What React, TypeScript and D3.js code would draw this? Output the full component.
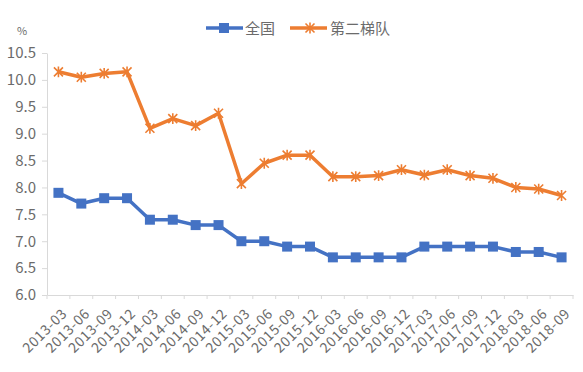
import React, { useEffect, useRef } from "react";
import * as d3 from "d3";

const quarters = [
  "2013-03", "2013-06", "2013-09", "2013-12",
  "2014-03", "2014-06", "2014-09", "2014-12",
  "2015-03", "2015-06", "2015-09", "2015-12",
  "2016-03", "2016-06", "2016-09", "2016-12",
  "2017-03", "2017-06", "2017-09", "2017-12",
  "2018-03", "2018-06", "2018-09",
];
const national = [7.9, 7.7, 7.8, 7.8, 7.4, 7.4, 7.3, 7.3, 7.0, 7.0, 6.9, 6.9, 6.7, 6.7, 6.7, 6.7, 6.9, 6.9, 6.9, 6.9, 6.8, 6.8, 6.7];
const secondTier = [10.15, 10.05, 10.12, 10.15, 9.1, 9.28, 9.15, 9.38, 8.07, 8.45, 8.6, 8.6, 8.2, 8.2, 8.22, 8.33, 8.23, 8.33, 8.22, 8.17, 8.0, 7.97, 7.85];
const yTicks = [6.0, 6.5, 7.0, 7.5, 8.0, 8.5, 9.0, 9.5, 10.0, 10.5];

const W = 583, H = 372;
const BLUE = "#4472C4", ORANGE = "#ED7D31", TXT = "#6b6b6b", AX = "#d9d9d9";

const App = () => {
  const ref = useRef<SVGSVGElement | null>(null);

  useEffect(() => {
    const svg = d3.select(ref.current);
    svg.selectAll("*").remove();
    const font = "'Microsoft YaHei', 'Noto Sans CJK SC', sans-serif";

    const x = d3.scaleBand().domain(quarters).range([47, 573]);
    const y = d3.scaleLinear().domain([6, 10.5]).range([295, 53]);
    const cx = (i: number) => (x(quarters[i]) as number) + x.bandwidth() / 2;

    // y axis
    const ya = svg.append("g").attr("transform", "translate(47,0)")
      .call(d3.axisLeft(y).tickValues(yTicks).tickFormat(d3.format(".1f")).tickSize(5).tickSizeOuter(0));
    ya.select(".domain").attr("stroke", AX);
    ya.selectAll(".tick line").attr("stroke", AX);
    ya.selectAll("text").attr("fill", TXT).attr("font-size", 15).attr("font-family", font).attr("x", -11);

    // x axis
    const xa = svg.append("g").attr("transform", "translate(0,295)")
      .call(d3.axisBottom(x).tickSize(4).tickSizeOuter(0));
    xa.select(".domain").attr("stroke", AX);
    xa.selectAll(".tick line").attr("stroke", AX)
      .attr("transform", `translate(${-x.bandwidth() / 2},0)`);
    xa.append("line").attr("x1", 573).attr("x2", 573).attr("y1", 0).attr("y2", 4).attr("stroke", AX);
    xa.selectAll(".tick text")
      .attr("fill", TXT).attr("font-size", 14).attr("font-family", font)
      .attr("letter-spacing", 0.6)
      .attr("text-anchor", "end").attr("dy", "0.35em")
      .attr("transform", "translate(6,16) rotate(-45)").attr("x", 0).attr("y", 0);

    // unit
    svg.append("text").attr("x", 17).attr("y", 35).attr("fill", TXT)
      .attr("font-size", 11).attr("font-family", font).text("%");

    const line = d3.line<number>().x((_, i) => cx(i)).y((d) => y(d));

    // national
    svg.append("path").datum(national).attr("d", line).attr("fill", "none")
      .attr("stroke", BLUE).attr("stroke-width", 3.5).attr("stroke-linejoin", "round");
    svg.append("g").selectAll("rect").data(national).join("rect")
      .attr("x", (_, i) => cx(i) - 5).attr("y", (d) => y(d) - 5)
      .attr("width", 10).attr("height", 10).attr("fill", BLUE);

    // second tier
    svg.append("path").datum(secondTier).attr("d", line).attr("fill", "none")
      .attr("stroke", ORANGE).attr("stroke-width", 3.5).attr("stroke-linejoin", "round");
    const star = (px: number, py: number, r: number) =>
      `M${px - r},${py - r}L${px + r},${py + r}M${px - r},${py + r}L${px + r},${py - r}M${px},${py - r * 1.2}L${px},${py + r * 1.2}`;
    svg.append("g").selectAll("path").data(secondTier).join("path")
      .attr("d", (d, i) => star(cx(i), y(d), 4.5))
      .attr("stroke", ORANGE).attr("stroke-width", 1.6).attr("fill", "none");

    // legend
    const lg = svg.append("g").attr("font-family", font).attr("font-size", 15).attr("fill", TXT);
    lg.append("line").attr("x1", 206).attr("x2", 243).attr("y1", 28).attr("y2", 28)
      .attr("stroke", BLUE).attr("stroke-width", 3.5);
    lg.append("rect").attr("x", 219).attr("y", 23).attr("width", 10).attr("height", 10).attr("fill", BLUE);
    lg.append("text").attr("x", 245).attr("y", 34).text("全国");
    lg.append("line").attr("x1", 290).attr("x2", 327).attr("y1", 28).attr("y2", 28)
      .attr("stroke", ORANGE).attr("stroke-width", 3.5);
    lg.append("path").attr("d", star(310, 28, 4.5)).attr("stroke", ORANGE).attr("stroke-width", 1.6);
    lg.append("text").attr("x", 330).attr("y", 34).text("第二梯队");
  }, []);

  return (
    <svg ref={ref} width={W} height={H} style={{ position: "absolute", left: 0, top: 0, background: "#fff" }} />
  );
};

export default App;
